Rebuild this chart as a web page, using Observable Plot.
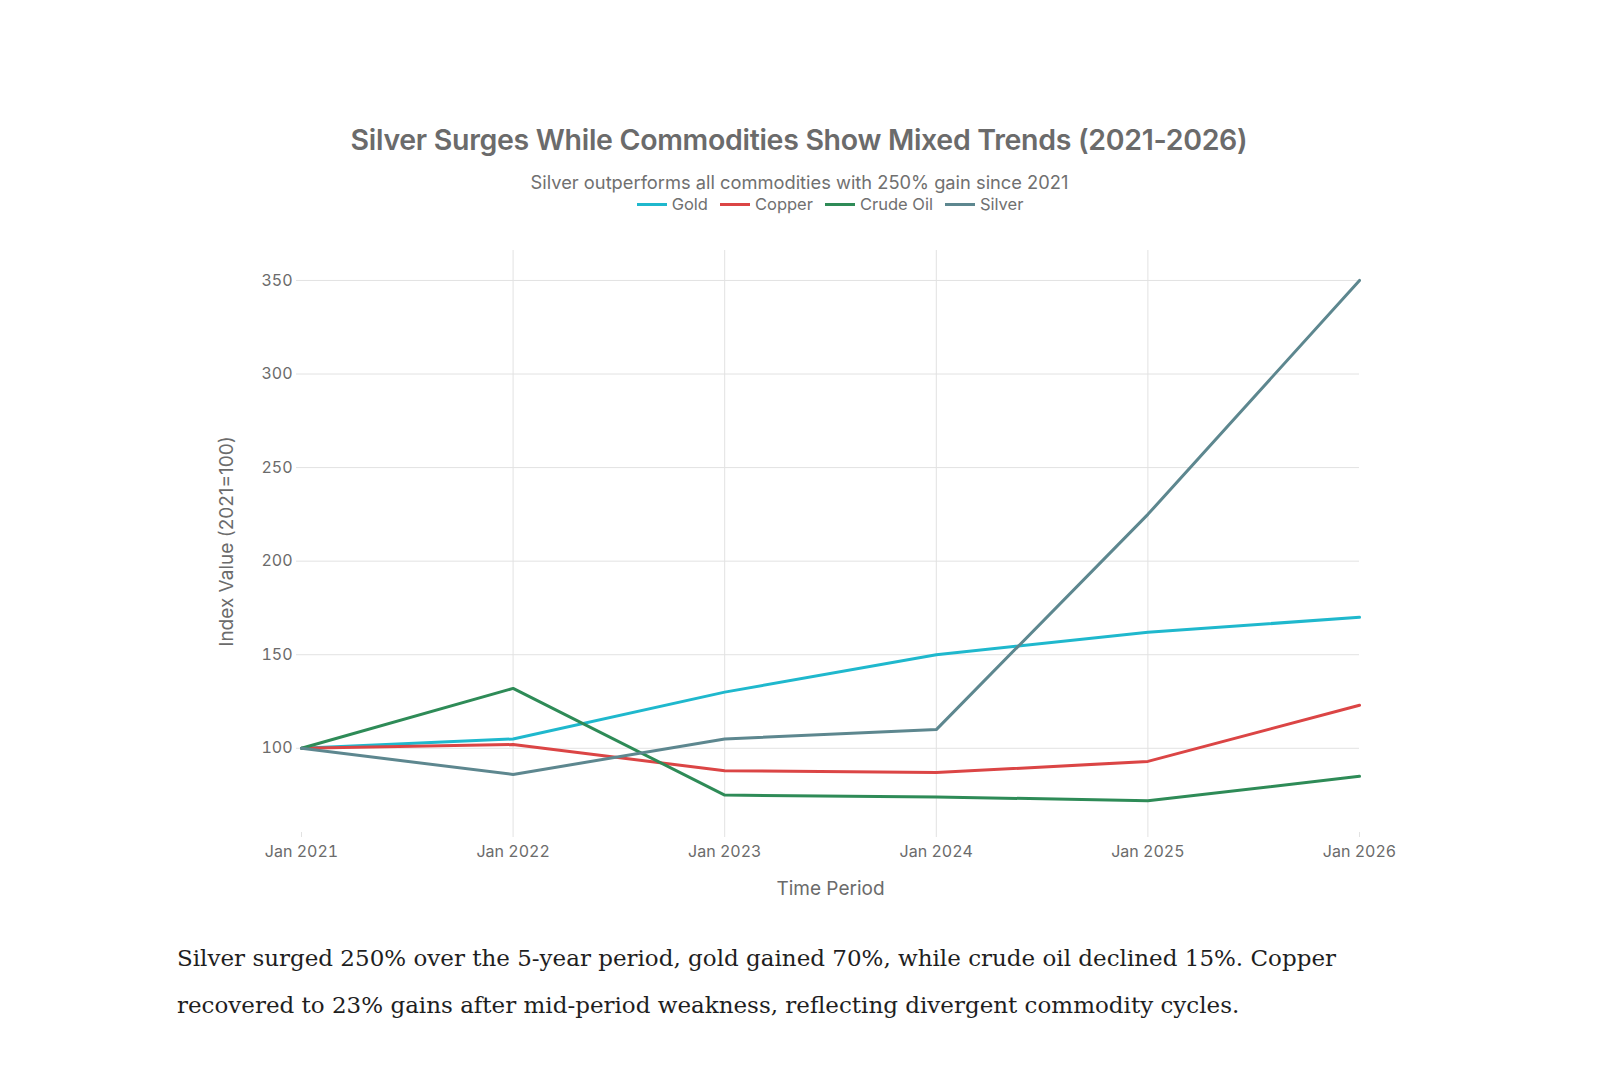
<!DOCTYPE html>
<html>
<head>
<meta charset="utf-8">
<script src="https://cdn.jsdelivr.net/npm/d3@7"></script>
<script src="https://cdn.jsdelivr.net/npm/@observablehq/plot@0.6"></script>
<style>
  html, body { margin: 0; padding: 0; background: #fff; }
  body { width: 1600px; height: 1066px; position: relative; overflow: hidden;
         font-family: Inter, "Liberation Sans", sans-serif; }
  .abs { position: absolute; white-space: nowrap; }
  #title { top: 125px; left: 0; width: 1598px; text-align: center; font-size: 28.5px; font-weight: 600;
           color: #6b6b6b; line-height: 30px; letter-spacing: -0.3px; }
  #subtitle { top: 172px; left: 0; width: 1599px; text-align: center; font-size: 18.3px; color: #707070; line-height: 20px; }
  #legend { top: 194px; left: 301px; width: 1058px; display: flex; justify-content: center; font-size: 16.5px; color: #707070; line-height: 20px; }
  #legend .item { display: flex; align-items: center; margin: 0 6px; }
  #legend .sw { width: 30px; height: 3px; margin-right: 5px; }
  #chart { top: 240px; left: 0; }
  #caption { top: 935px; left: 177px; font-family: "DejaVu Serif", serif; font-size: 23px; line-height: 47px; color: #1e1e1e; }
</style>
</head>
<body>
<div id="title" class="abs">Silver Surges While Commodities Show Mixed Trends (2021-2026)</div>
<div id="subtitle" class="abs">Silver outperforms all commodities with 250% gain since 2021</div>
<div id="legend" class="abs"></div>
<div id="chart" class="abs"></div>
<div id="caption" class="abs">Silver surged 250% over the 5-year period, gold gained 70%, while crude oil declined 15%. Copper<br>recovered to 23% gains after mid-period weakness, reflecting divergent commodity cycles.</div>
<script>
// Index values (2021 = 100) at the start of each year
const years = [2021, 2022, 2023, 2024, 2025, 2026];
const tickLabels = ["Jan 2021", "Jan 2022", "Jan 2023", "Jan 2024", "Jan 2025", "Jan 2026"];
const seriesNames = ["Gold", "Copper", "Crude Oil", "Silver"];
const seriesColors = ["#1FB8CD", "#DB4545", "#2E8B57", "#5D878F"];
const gold = [100, 105, 130, 150, 162, 170];
const copper = [100, 102, 88, 87, 93, 123];
const crudeOil = [100, 132, 75, 74, 72, 85];
const silver = [100, 86, 105, 110, 225, 350];
const yTicks = [100, 150, 200, 250, 300, 350];

const seriesValues = [gold, copper, crudeOil, silver];
const rows = seriesNames.flatMap((name, s) =>
  years.map((year, i) => ({ name, year, value: seriesValues[s][i] }))
);

// Legend: short line swatches followed by the series name
const legend = document.getElementById("legend");
seriesNames.forEach((name, i) => {
  const item = document.createElement("div");
  item.className = "item";
  const sw = document.createElement("span");
  sw.className = "sw";
  sw.style.background = seriesColors[i];
  const label = document.createElement("span");
  label.textContent = name;
  item.append(sw, label);
  legend.append(item);
});

const gridColor = "#e2e2e2";

const chart = Plot.plot({
  width: 1600,
  height: 660,
  marginLeft: 301,
  marginRight: 241,
  marginTop: 10,
  marginBottom: 68,
  style: { fontFamily: "Inter, 'Liberation Sans', sans-serif", fontSize: "16px", color: "#6b6b6b", background: "transparent" },
  x: { domain: [years[0], years[years.length - 1]] },
  y: { domain: [55, 366] },
  color: { domain: seriesNames, range: seriesColors },
  marks: [
    Plot.gridY(yTicks, { stroke: gridColor, strokeOpacity: 1, strokeWidth: 1 }),
    Plot.gridX(years.slice(1, -1), { stroke: gridColor, strokeOpacity: 1, strokeWidth: 1 }),
    Plot.axisX(years, {
      tickFormat: (d, i) => tickLabels[i],
      tickSize: 5, tickPadding: 8, stroke: gridColor,
      label: "Time Period", labelAnchor: "center", labelArrow: "none", labelOffset: 62, fontSize: 16
    }),
    Plot.axisY(yTicks, {
      tickSize: 5, tickPadding: 4, stroke: gridColor,
      label: "Index Value (2021=100)", labelAnchor: "center", labelArrow: "none", labelOffset: 82, fontSize: 16
    }),
    Plot.line(rows, { x: "year", y: "value", z: "name", stroke: "name", strokeWidth: 3, strokeLinejoin: "round", strokeLinecap: "round" })
  ]
});

// Axis titles: larger than tick labels, and without direction arrows
chart.querySelectorAll("g[aria-label='x-axis label'] text, g[aria-label='y-axis label'] text").forEach(t => {
  t.setAttribute("font-size", "19");
  t.textContent = t.textContent.replace(/\s*[↑↓←→]\s*/g, "").trim();
});
document.getElementById("chart").append(chart);
</script>
</body>
</html>
